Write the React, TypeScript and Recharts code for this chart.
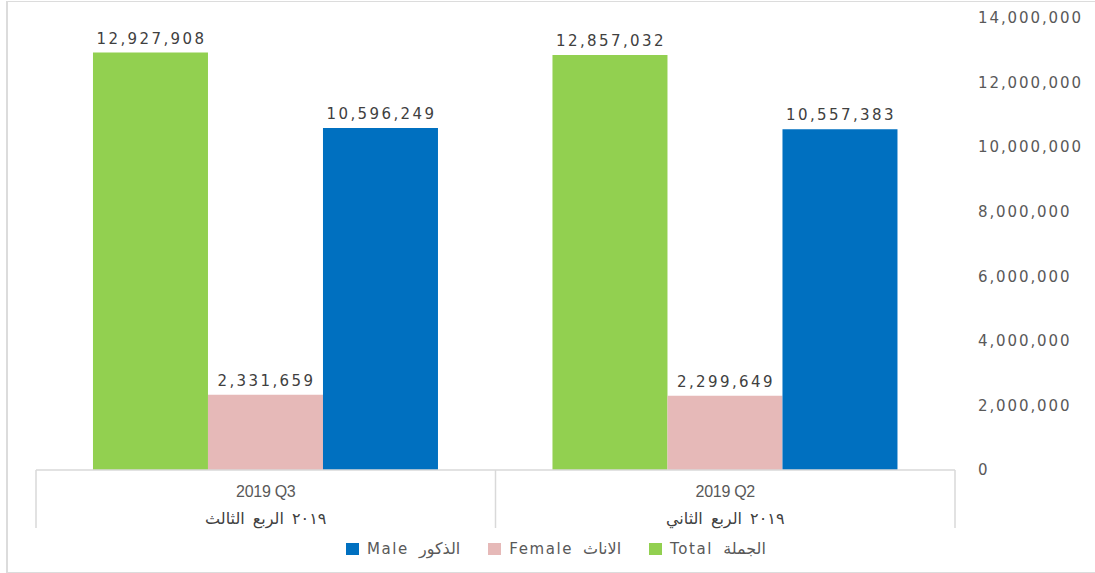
import React from 'react';
import { BarChart, Bar, XAxis, YAxis, Legend, LabelList } from 'recharts';

const categories = ['2019 Q3', '2019 Q2'];
const categoriesAr = ['٢٠١٩ الربع الثالث', '٢٠١٩ الربع الثاني'];
const totalValues = [12927908, 12857032];
const femaleValues = [2331659, 2299649];
const maleValues = [10596249, 10557383];
const yTicks = [0, 2000000, 4000000, 6000000, 8000000, 10000000, 12000000, 14000000];

const seriesNames = { total: 'Total الجملة', female: 'Female الاناث', male: 'Male الذكور' };
const legendOrder = ['male', 'female', 'total'];

const data = categories.map((c, i) => ({
  cat: c,
  ar: categoriesAr[i],
  total: totalValues[i],
  female: femaleValues[i],
  male: maleValues[i],
}));

const W = 1095;
const H = 573;
const M = { top: 18, right: 20, bottom: 23, left: 36 };
const YW = 120;
const BAND_HALF = (W - M.left - M.right - YW) / categories.length / 2;

const FONT = '"DejaVu Sans", Verdana, sans-serif';
const fmt = (v: number) => Number(v).toLocaleString('en-US');

const CatTick = (props: any) => {
  const { x, y, payload, index } = props;
  const ar = categoriesAr[index] ?? '';
  return (
    <g>
      <line x1={x - BAND_HALF} y1={y - 8} x2={x - BAND_HALF} y2={y + 50} stroke="#d9d9d9" strokeWidth={1.5} />
      {index === categories.length - 1 && (
        <line x1={x + BAND_HALF} y1={y - 8} x2={x + BAND_HALF} y2={y + 50} stroke="#d9d9d9" strokeWidth={1.5} />
      )}
      <text x={x} y={y + 19} textAnchor="middle" fill="#595959" fontSize={16} letterSpacing={-0.3}
        fontFamily='"Liberation Sans", Arial, sans-serif'>
        {payload.value}
      </text>
      <text x={x} y={y + 46} textAnchor="middle" fill="#404040" fontSize={16} wordSpacing={3} fontFamily={FONT}>
        {ar}
      </text>
    </g>
  );
};

const ValueLabel = (props: any) => {
  const { x, y, width, value } = props;
  return (
    <text x={Number(x) + Number(width) / 2 + 1} y={Number(y) - 9} textAnchor="middle" fill="#404040"
      fontSize={15} letterSpacing={2.4} fontFamily={FONT}>
      {fmt(value)}
    </text>
  );
};

const LegendContent = (props: any) => {
  const items = [...(props.payload || [])].sort(
    (a: any, b: any) => legendOrder.indexOf(a.dataKey) - legendOrder.indexOf(b.dataKey)
  );
  return (
    <div style={{ display: 'flex', alignItems: 'center', fontFamily: FONT, color: '#595959' }}>
      {items.map((it: any, i: number) => {
        const parts = String(it.value).split(' ');
        const latin = parts[0];
        const arabic = parts.slice(1).join(' ');
        return (
          <div key={i} style={{ display: 'flex', alignItems: 'center', marginRight: 28 }}>
            <span style={{ display: 'inline-block', width: 13, height: 12, background: it.color, marginRight: 8 }} />
            <span style={{ fontSize: 15, letterSpacing: 1.6, whiteSpace: 'nowrap' }}>{latin}</span>
            <span style={{ fontSize: 16, marginLeft: 10, whiteSpace: 'nowrap' }}>{arabic}</span>
          </div>
        );
      })}
    </div>
  );
};

export default function App() {
  return (
    <div style={{ position: 'absolute', left: 0, top: 0, width: W, height: H, background: '#fff' }}>
      <div style={{ position: 'absolute', left: 6, top: 1, width: W - 6, height: H - 3,
        borderLeft: '2px solid #dcdcdc', borderTop: '1px solid #dcdcdc', borderBottom: '2px solid #dcdcdc' }} />
      <BarChart width={W} height={H} data={data} margin={M} barGap={0} barCategoryGap="12.4%">
        <XAxis dataKey="cat" axisLine={{ stroke: '#d9d9d9', strokeWidth: 1.5 }} tickLine={false}
          tick={<CatTick />} interval={0} height={60} />
        <YAxis orientation="right" width={YW} domain={[0, 14000000]} ticks={yTicks} axisLine={false}
          tickLine={false} tickMargin={17} tickFormatter={fmt}
          tick={{ fill: '#595959', fontSize: 15, fontFamily: FONT, letterSpacing: 1.9 }} />
        <Legend content={<LegendContent />}
          wrapperStyle={{ position: 'absolute', left: 346, top: 539, width: 520, height: 20 }} />
        <Bar dataKey="total" name={seriesNames.total} fill="#92D050" isAnimationActive={false}>
          <LabelList dataKey="total" content={<ValueLabel />} />
        </Bar>
        <Bar dataKey="female" name={seriesNames.female} fill="#E6B9B8" isAnimationActive={false}>
          <LabelList dataKey="female" content={<ValueLabel />} />
        </Bar>
        <Bar dataKey="male" name={seriesNames.male} fill="#0070C0" isAnimationActive={false}>
          <LabelList dataKey="male" content={<ValueLabel />} />
        </Bar>
      </BarChart>
    </div>
  );
}
